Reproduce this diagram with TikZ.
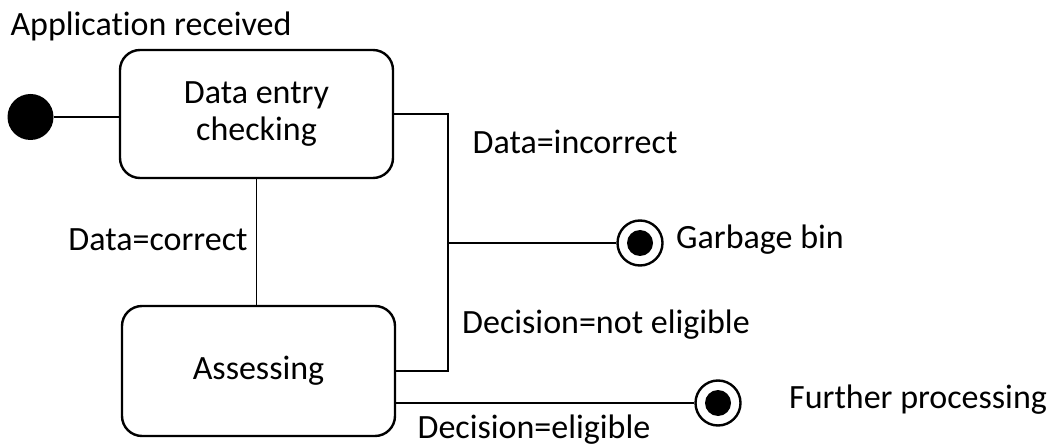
\documentclass[tikz,border=0pt]{standalone}
\usepackage{fontspec}
\setmainfont[Ligatures={NoCommon}]{Carlito}
\begin{document}
\begin{tikzpicture}[x=1pt,y=-1pt,
  every node/.style={font=\fontsize{34}{37}\selectfont},
  state/.style={draw, line width=2.4pt, rounded corners=20pt, minimum width=273pt, minimum height=128pt, align=center, inner sep=0pt},
  conn/.style={line width=1.4pt},
  startdot/.style={circle, fill=black, minimum size=46pt, inner sep=0pt},
  endring/.style={circle, draw, line width=2.4pt, minimum size=45pt, inner sep=0pt},
  lbl/.style={inner sep=0pt}]
\useasboundingbox (0,0) rectangle (1052,446);
\node[startdot] (init) at (30.5,117) {};
\node[state] (check) at (256.5,114) {Data entry\\checking};
\node[state, minimum height=130pt] (assess) at (258.5,371) {Assessing};
\node[endring] (garbage) at (640,243) {};
\fill (garbage) circle (13pt);
\node[endring] (further) at (718,403) {};
\fill (further) circle (13pt);
\coordinate (J) at (448,243);
\draw[conn] (init) -- (init -| check.west);
\draw[conn] (check.south) -- (check.south |- assess.north);
\draw[conn] (check.east) -| (J);
\draw[conn] (assess.east) -| (J);
\draw[conn] (J) -- (garbage);
\draw[conn] (assess.east |- further) -- (further);
\node[lbl] (t1) at (151,26) {Application received};
\node[lbl] (t2) at (575,142) {Data=incorrect};
\node[lbl] (t3) at (158,240) {Data=correct};
\node[lbl, anchor=west] (t4) at (676,240) {Garbage bin};
\node[lbl] (t5) at (606,325) {Decision=not eligible};
\node[lbl] (t6) at (534,430) {Decision=eligible};
\node[lbl, anchor=west] (t7) at (789,400) {Further processing};
\end{tikzpicture}
\end{document}
